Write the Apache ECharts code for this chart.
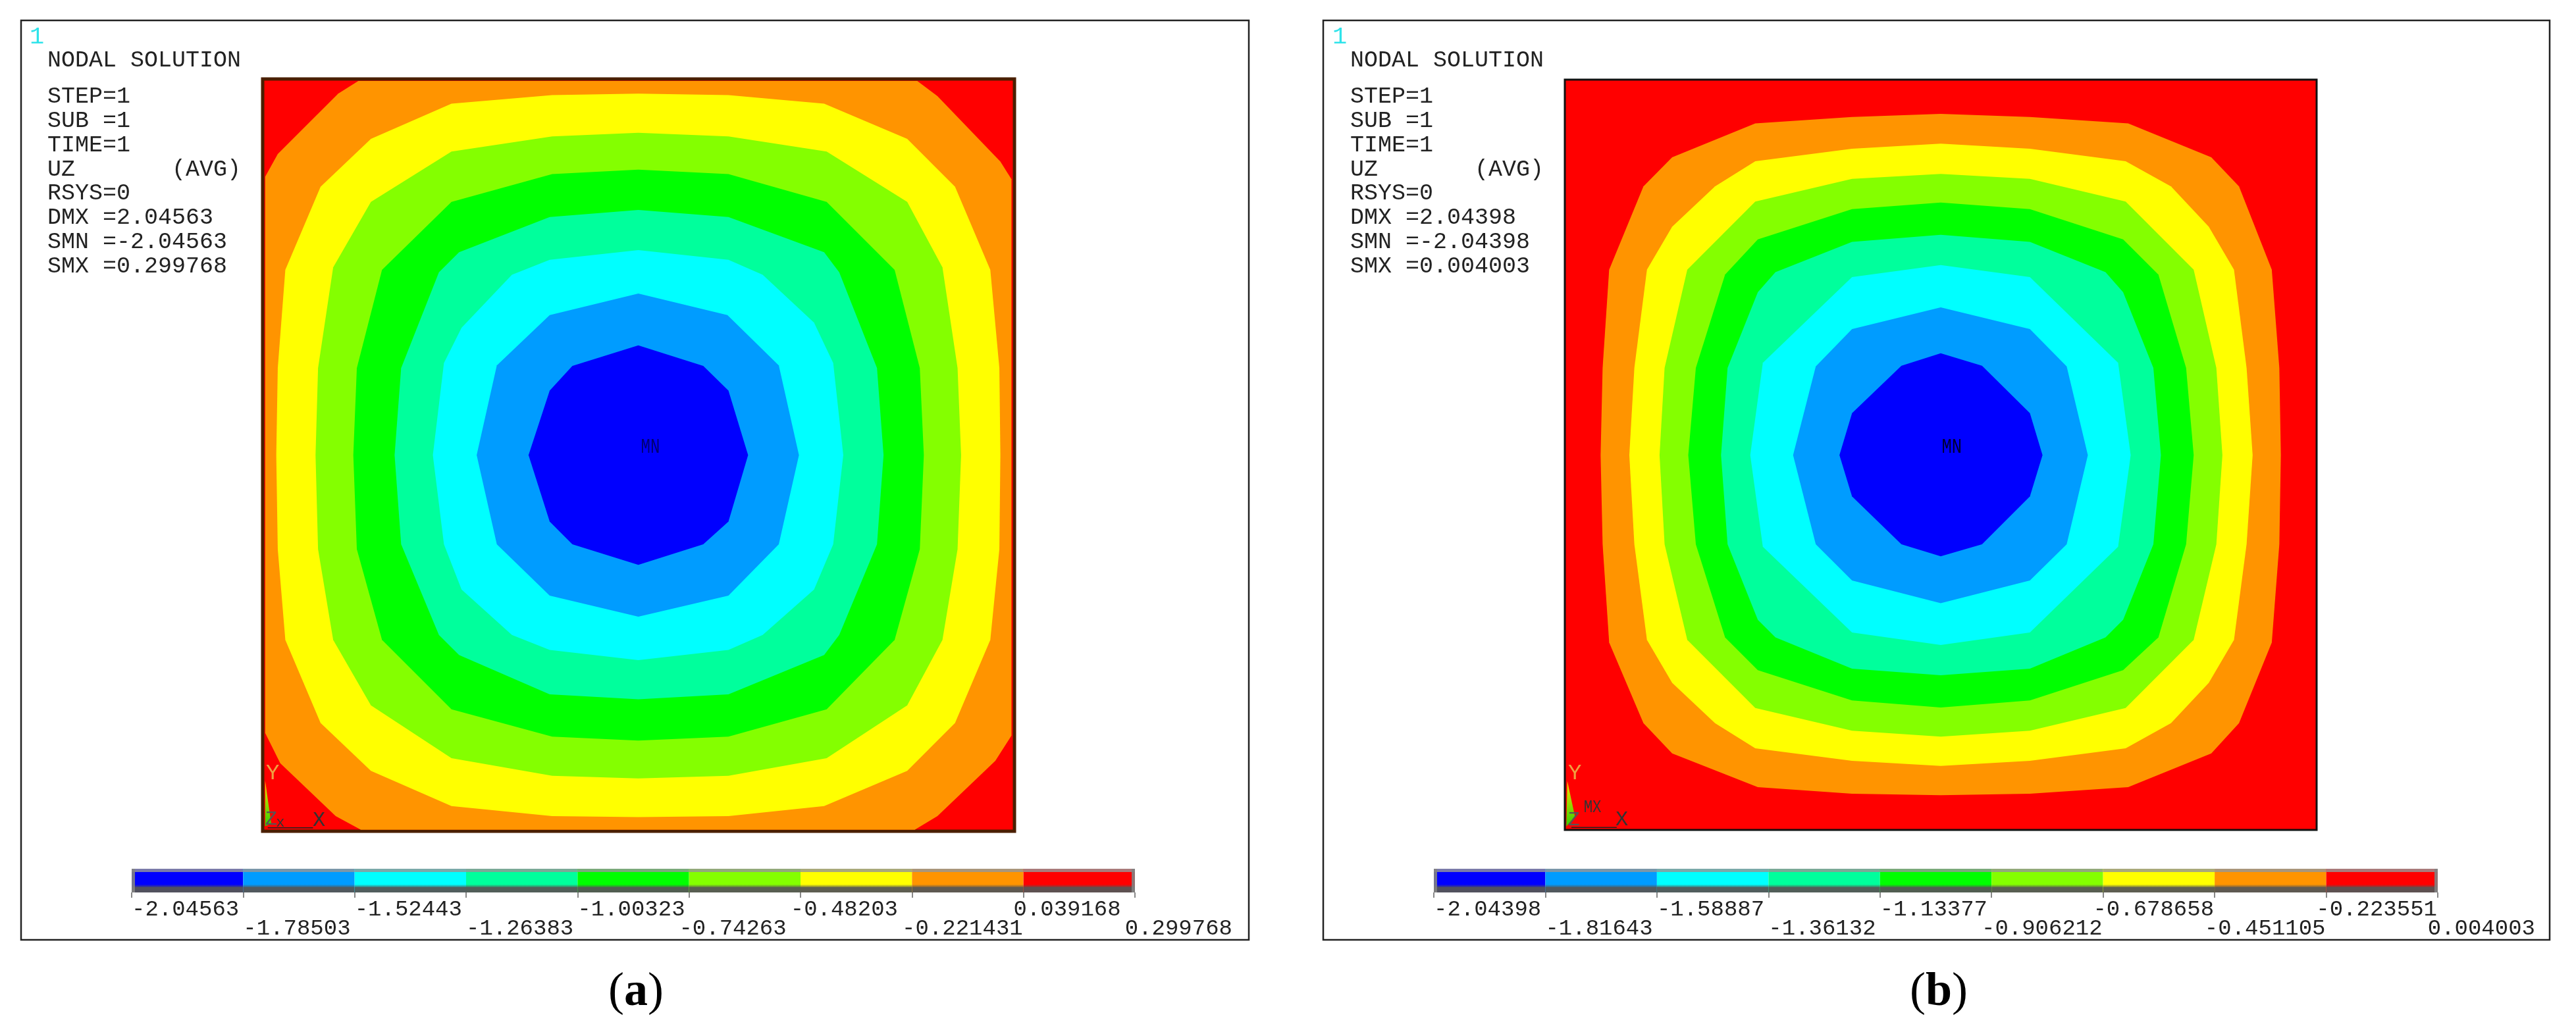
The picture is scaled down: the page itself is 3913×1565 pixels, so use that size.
<!DOCTYPE html>
<html><head><meta charset="utf-8">
<style>html,body{margin:0;padding:0;background:#fff}#c{width:3913px;height:1565px}</style>
<script src="https://cdn.jsdelivr.net/npm/echarts@6/dist/echarts.min.js"></script>
</head><body><div id="c"></div>
<script>
// Contour outlines, outermost first (plate units)
const bandColors = ['#0000ff','#009cff','#00ffff','#00ff9c','#00ff00','#84ff00','#ffff00','#ff9400','#ff0000'];

const redA = [[25,26],[1518,26],[1518,1520],[25,1520]];
const orangeA = [[215,30],[1325,30],[1365,60],[1490,190],[1512,225],[1512,1330],[1480,1380],[1365,1490],[1320,1517],[220,1517],[170,1490],[60,1385],[30,1325],[30,220],[55,175],[175,55]];
const yellowA = [[771,55],[950,58],[1140,75],[1305,145],[1400,240],[1470,405],[1488,600],[1490,773],[1488,960],[1470,1140],[1400,1305],[1305,1400],[1140,1470],[950,1490],[771,1492],[600,1490],[400,1470],[240,1400],[140,1305],[70,1140],[55,960],[52,773],[55,600],[70,405],[140,240],[240,145],[400,75],[600,58]];
const limeA = [[771,133],[950,140],[1145,170],[1305,270],[1375,400],[1405,600],[1412,773],[1405,960],[1375,1140],[1305,1270],[1145,1375],[950,1410],[771,1415],[600,1410],[400,1375],[240,1270],[165,1140],[135,960],[130,773],[135,600],[165,400],[240,270],[400,170],[600,140]];
const greenA = [[771,206],[950,215],[1145,270],[1280,405],[1330,600],[1338,773],[1330,960],[1280,1140],[1145,1278],[950,1332],[771,1340],[600,1332],[400,1278],[262,1140],[212,960],[205,773],[212,600],[262,405],[400,270],[600,215]];
const springA = [[771,286],[950,300],[1140,370],[1170,410],[1245,600],[1258,773],[1245,950],[1170,1130],[1140,1170],[950,1248],[771,1258],[595,1248],[415,1170],[375,1130],[300,950],[287,773],[300,600],[375,410],[415,370],[595,300]];
const cyanA = [[771,366],[950,385],[1018,415],[1120,510],[1158,590],[1178,773],[1158,950],[1120,1040],[1018,1130],[950,1160],[771,1180],[595,1160],[520,1130],[420,1040],[385,950],[363,773],[385,590],[420,520],[520,415],[595,385]];
const azureA = [[771,452],[948,495],[1050,595],[1090,773],[1050,950],[950,1052],[771,1094],[595,1052],[490,950],[450,773],[490,595],[595,495]];
const blueA = [[771,555],[900,596],[950,645],[989,773],[950,905],[900,950],[771,991],[640,950],[595,905],[553,773],[595,645],[640,596]];

const redB = [[22,28],[1514,28],[1514,1517],[22,1517]];
const orangeB = [[768,96],[945,102],[1140,115],[1305,182],[1360,240],[1425,405],[1440,600],[1443,773],[1440,950],[1425,1145],[1360,1305],[1305,1365],[1140,1432],[945,1445],[768,1448],[592,1445],[405,1432],[235,1365],[178,1305],[110,1145],[97,950],[93,773],[97,600],[110,405],[178,240],[235,182],[400,115],[592,102]];
const yellowB = [[768,155],[945,165],[1135,190],[1225,240],[1300,320],[1350,405],[1375,600],[1387,773],[1375,950],[1350,1140],[1300,1225],[1225,1305],[1135,1355],[945,1380],[768,1390],[592,1380],[400,1355],[320,1305],[235,1225],[185,1140],[160,950],[150,773],[160,600],[185,405],[235,320],[320,240],[400,190],[592,165]];
const limeB = [[768,215],[945,225],[1135,270],[1270,405],[1315,600],[1327,773],[1315,950],[1270,1140],[1135,1275],[945,1320],[768,1332],[592,1320],[400,1275],[265,1140],[220,950],[210,773],[220,600],[265,405],[400,270],[592,225]];
const greenB = [[768,272],[945,285],[1130,345],[1200,415],[1255,600],[1270,773],[1255,950],[1200,1135],[1130,1200],[945,1260],[768,1274],[592,1260],[405,1200],[340,1135],[282,950],[267,773],[282,600],[340,415],[405,345],[592,285]];
const springB = [[768,336],[945,350],[1095,410],[1130,450],[1190,600],[1205,773],[1190,950],[1130,1100],[1095,1135],[945,1197],[768,1210],[592,1197],[440,1135],[405,1100],[345,950],[332,773],[345,600],[405,450],[440,410],[592,350]];
const cyanB = [[768,396],[945,420],[1120,590],[1145,773],[1120,955],[945,1125],[768,1150],[592,1125],[415,955],[390,773],[415,590],[592,420]];
const azureB = [[768,480],[945,523],[1018,597],[1060,773],[1018,950],[945,1022],[768,1067],[592,1022],[520,950],[475,773],[520,597],[592,523]];
const blueB = [[768,571],[850,596],[945,690],[970,773],[945,855],[850,950],[768,974],[690,950],[592,855],[567,773],[592,690],[690,596]];

const triadTriangleA = [[30,1420],[30,1510],[42,1505]];
const triadTriangleB = [[27,1420],[25,1510],[42,1490]];
const xAxisLineA = [[35,1513],[125,1513]];
const xAxisLineB = [[35,1512],[125,1512]];

// Colour bar tick labels
const ticksA = ['-2.04563','-1.78503','-1.52443','-1.26383','-1.00323','-0.74263','-0.48203','-0.221431','0.039168','0.299768'];
const ticksB = ['-2.04398','-1.81643','-1.58887','-1.36132','-1.13377','-0.906212','-0.678658','-0.451105','-0.223551','0.004003'];

// Header text
const numberMark = '1';
const headerTitle = 'NODAL SOLUTION';
const infoA = ['STEP=1','SUB =1','TIME=1','UZ       (AVG)','RSYS=0','DMX =2.04563','SMN =-2.04563','SMX =0.299768'];
const infoB = ['STEP=1','SUB =1','TIME=1','UZ       (AVG)','RSYS=0','DMX =2.04398','SMN =-2.04398','SMX =0.004003'];

const mono = '"Liberation Mono"';
const contoursA = [redA,orangeA,yellowA,limeA,greenA,springA,cyanA,azureA,blueA];
const contoursB = [redB,orangeB,yellowB,limeB,greenB,springB,cyanB,azureB,blueB];
const fills = bandColors.slice().reverse();

function contourSeries(list, idx, edge, edgeW){
  return {type:'custom', xAxisIndex:idx, yAxisIndex:idx, silent:true, animation:false, clip:false,
    data:list.map((c,i)=>[i]),
    renderItem:(p,api)=>({type:'polygon',
      shape:{points:list[p.dataIndex].map(q=>api.coord(q))},
      style:{fill:fills[p.dataIndex], stroke:p.dataIndex===0?edge:fills[p.dataIndex], lineWidth:p.dataIndex===0?edgeW:0}})};
}
function triadSeries(idx, tri, line, labels){
  return {type:'custom', xAxisIndex:idx, yAxisIndex:idx, silent:true, animation:false, clip:false, z:5,
    data:[[0]],
    renderItem:(p,api)=>({type:'group',children:[
      {type:'polygon',shape:{points:tri.map(q=>api.coord(q))},
       style:{fill:new echarts.graphic.LinearGradient(0,0,0,1,[{offset:0,color:'#ffe000'},{offset:1,color:'#30d000'}])}},
      {type:'polyline',shape:{points:line.map(q=>api.coord(q))},style:{stroke:'#222',lineWidth:1.5,fill:'none'}},
      ...labels.map(l=>{const c=api.coord([l[1],l[2]]);return {type:'text',x:c[0],y:c[1],
        style:{text:l[0],fill:l[3],font:l[4]+'px '+mono,align:'center',verticalAlign:'middle'},scaleX:l[5]||1};})
    ]})};
}
function barSeries(g){
  return {type:'custom', xAxisIndex:g.x, yAxisIndex:g.y, silent:true, animation:false,
    data:bandColors.map((c,i)=>[i]),
    renderItem:(p,api)=>{
      const i=p.dataIndex, a=api.coord([i,1]), b=api.coord([i+1,0]);
      const w=b[0]-a[0], h=b[1]-a[1];
      const kids=[
        {type:'rect',shape:{x:a[0],y:a[1],width:w,height:h},style:{fill:bandColors[i]}},
        {type:'rect',shape:{x:a[0],y:a[1],width:w,height:h*0.14},style:{fill:'rgba(150,150,150,0.82)'}},
        {type:'rect',shape:{x:a[0],y:a[1]+h*0.78,width:w,height:h*0.22},style:{fill:'rgba(85,85,85,0.95)'}},
        {type:'rect',shape:{x:a[0],y:a[1]+h*0.66,width:w,height:h*0.12},style:{fill:new echarts.graphic.LinearGradient(0,0,0,1,[{offset:0,color:'rgba(85,85,85,0)'},{offset:1,color:'rgba(85,85,85,0.8)'}])}}
      ];
      if(i===0) kids.push({type:'rect',shape:{x:a[0],y:a[1],width:5,height:h},style:{fill:'rgba(130,130,130,0.9)'}});
      if(i===8) kids.push({type:'rect',shape:{x:b[0]-5,y:a[1],width:5,height:h},style:{fill:'rgba(130,130,130,0.9)'}});
      return {type:'group',children:kids};
    }};
}
const hiddenPlate=(min,max,inv)=>({type:'value',min,max,inverse:!!inv,show:false,scale:true});

function tickPos(list){ return list.map((s,i)=> i-(Math.abs(parseFloat(s))<1?0.09:0)); }
function labelFor(list){
  const pos=tickPos(list);
  return v=>{ let k=0,best=9; pos.forEach((q,i)=>{const d=Math.abs(q-v); if(d<best){best=d;k=i;}}); return list[k]; };
}
function barAxis(grid,list,row){
  const pos=tickPos(list).filter((q,i)=>i%2===row);
  return {type:'value',gridIndex:grid,position:'bottom',min:0,max:9,
    axisLine:{show:false},splitLine:{show:false},
    axisTick:row===0?{show:true,length:8,customValues:[0,1,2,3,4,5,6,7,8,9],lineStyle:{color:'#888',width:2}}:{show:false},
    axisLabel:{show:true,customValues:pos,formatter:labelFor(list),align:'left',margin:row===0?9:38,
      fontFamily:'Liberation Mono',fontSize:34,color:'#222',showMinLabel:true,showMaxLabel:true,hideOverlap:false}};
}
function panelGraphics(left,top,right,bottom,textX,info,capX,capLetter){
  const line=(t,y,o={})=>({type:'text',x:textX,y,style:Object.assign({text:t,font:'35px '+mono,fill:'#222',verticalAlign:'middle'},o)});
  const out=[
    {type:'rect',shape:{x:left,y:top,width:right-left,height:bottom-top},style:{fill:'none',stroke:'#222',lineWidth:2.5},z:-1},
    line(numberMark,56,{fill:'#2fe3ea',font:'37px '+mono}),
    line(headerTitle,92)
  ];
  out[1].x=textX-27;
  info.forEach((t,i)=>out.push(line(t,147+i*36.8)));
  out.push({type:'text',x:capX,y:1508,style:{
    text:'{p|(}{l|'+capLetter+'}{p|)}',align:'center',verticalAlign:'middle',
    rich:{p:{font:'72px "Liberation Serif"',fill:'#000'},l:{font:'bold 72px "Liberation Serif"',fill:'#000'}}}});
  return out;
}

const chart=echarts.init(document.getElementById('c'),null,{renderer:'canvas'});
chart.setOption({
  backgroundColor:'#fff', animation:false,
  grid:[
    {left:399,top:120,width:1142,height:1143},
    {left:2377,top:121,width:1142,height:1140},
    {left:200,top:1320,width:1524,height:36},
    {left:2178,top:1320,width:1525,height:36}
  ],
  xAxis:[
    Object.assign(hiddenPlate(25,1518),{gridIndex:0}),
    Object.assign(hiddenPlate(22,1514),{gridIndex:1}),
    barAxis(2,ticksA,0),barAxis(2,ticksA,1),
    barAxis(3,ticksB,0),barAxis(3,ticksB,1)
  ],
  yAxis:[
    Object.assign(hiddenPlate(26,1520,true),{gridIndex:0}),
    Object.assign(hiddenPlate(28,1517,true),{gridIndex:1}),
    {type:'value',gridIndex:2,min:0,max:1,show:false},
    {type:'value',gridIndex:3,min:0,max:1,show:false}
  ],
  graphic:[
    ...panelGraphics(32,31,1897,1428,72,infoA,966,'a'),
    ...panelGraphics(2010,31,3873,1428,2051,infoB,2945,'b')
  ],
  series:[
    contourSeries(contoursA,0,'#4a1f00',5),
    contourSeries(contoursB,1,'#111',3),
    triadSeries(0,triadTriangleA,xAxisLineA,[['MN',795,758,'#000070',32,0.75],['Y',45,1405,'#f0a040',34],['X',137,1498,'#333',32],['Z',42,1497,'#555',30],['x',60,1503,'#333',22]]),
    triadSeries(1,triadTriangleB,xAxisLineB,[['MN',790,758,'#000030',32,0.8],['MX',77,1472,'#333',28,0.8],['Y',42,1405,'#f0a040',34],['X',135,1497,'#333',32],['Z',40,1497,'#555',30]]),
    barSeries({x:2,y:2}),
    barSeries({x:4,y:3})
  ]
});
</script></body></html>
